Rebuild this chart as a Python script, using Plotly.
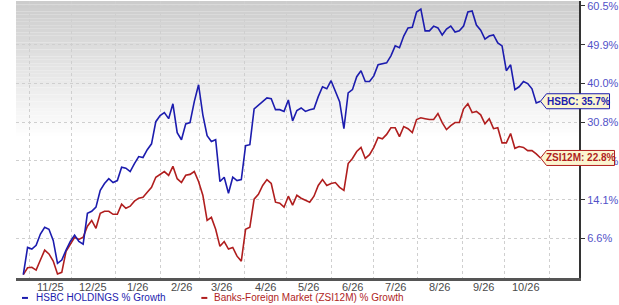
import numpy as np
import pandas as pd
import plotly.graph_objects as go

# ---------------- data ----------------
dates = pd.date_range("2025-10-28", periods=122, freq="3D")

hsbc = [
    0.0, 4.9, 4.6, 5.3, 7.4, 8.7, 8.3, 6.2, 2.0, 2.6,
    4.4, 6.0, 7.2, 6.0, 5.5, 11.4, 11.8, 12.6, 16.0, 17.4,
    18.4, 17.6, 18.0, 20.8, 20.6, 19.9, 21.6, 23.1, 22.9, 24.6,
    25.9, 30.9, 32.3, 33.0, 31.6, 35.1, 28.4, 26.8, 30.4, 30.7,
    35.6, 39.7, 32.5, 27.7, 26.4, 26.8, 17.8, 18.7, 15.4, 18.7,
    18.0, 18.2, 25.5, 25.7, 33.9, 34.8, 35.6, 36.5, 36.3, 33.7,
    33.7, 33.3, 36.0, 31.1, 33.5, 34.1, 33.3, 33.7, 33.9, 36.8,
    39.2, 38.7, 40.7, 38.2, 35.6, 29.3, 37.7, 38.5, 41.7, 43.2,
    40.5, 40.5, 41.9, 44.7, 44.9, 45.2, 47.0, 49.6, 49.1, 52.2,
    54.4, 54.6, 58.8, 59.6, 53.6, 53.6, 54.9, 54.4, 52.5, 54.1,
    54.9, 53.3, 53.6, 54.9, 58.8, 59.1, 55.2, 53.8, 51.4, 52.2,
    52.5, 50.4, 49.6, 43.2, 44.7, 38.5, 39.2, 40.5, 40.0, 38.7,
    35.3, 35.7,
]

zsi12m = [
    0.0, 1.2, 1.3, 0.8, 2.6, 4.4, 3.7, 2.4, 0.1, 0.4,
    4.2, 5.5, 6.8, 6.4, 6.8, 8.9, 10.0, 8.5, 11.4, 11.8,
    11.8, 11.2, 11.2, 13.2, 12.4, 12.8, 13.8, 14.4, 14.6, 15.6,
    16.6, 18.7, 19.3, 19.9, 19.1, 21.0, 18.4, 17.6, 19.1, 19.3,
    19.9, 17.8, 15.0, 10.0, 10.6, 8.3, 5.1, 6.0, 4.6, 4.9,
    3.3, 2.4, 8.3, 8.7, 14.2, 15.2, 17.0, 18.2, 17.4, 13.6,
    13.4, 12.6, 14.8, 13.0, 15.0, 14.4, 14.0, 13.6, 14.8, 17.0,
    18.2, 17.0, 17.4, 17.6, 16.6, 16.0, 21.6, 22.7, 24.2, 25.1,
    22.7, 23.5, 25.1, 27.3, 27.0, 28.0, 29.5, 29.5, 27.5, 29.8,
    29.3, 28.4, 31.4, 31.8, 31.6, 31.4, 31.4, 32.8, 30.7, 29.1,
    30.0, 30.7, 30.7, 33.9, 35.1, 33.0, 33.3, 32.5, 30.4, 31.6,
    29.3, 29.5, 26.1, 26.1, 28.2, 24.9, 25.3, 25.1, 24.4, 24.4,
    23.7, 22.8,
]

y_tick_values = [6.6, 14.1, 22.2, 30.8, 40.0, 49.9, 60.5]
month_starts = pd.date_range("2025-11-01", "2026-11-01", freq="MS")
month_labels = ["11/25", "12/25", "1/26", "2/26", "3/26", "4/26",
                "5/26", "6/26", "7/26", "8/26", "9/26", "10/26"]

series_names = ["HSBC HOLDINGS % Growth", "Banks-Foreign Market (ZSI12M) % Growth"]
short_names = ["HSBC", "ZSI12M"]

# ---------------- style ----------------
BLUE = "#1c1cae"
RED = "#b01e1e"
TICK_BLUE = "#5252c8"
TAG_FILL = "#fbf5d0"
FONT = "Liberation Sans, Arial, sans-serif"

W, H = 619, 305
ML, MR, MT, MB = 16, 38, 0, 27
plot_w = W - ML - MR
plot_h = H - MT - MB

x_start = pd.Timestamp("2025-10-22 21:00")
x_end = pd.Timestamp("2026-11-22")
y_range = [np.log10(0.994), np.log10(1.619)]


def to_ratio(v):
    return 1 + v / 100.0


def px_x(px):
    return (px - ML) / plot_w


def px_y(py):
    return (plot_h - (py - MT)) / plot_h


def date_to_paper(d):
    return (d - x_start) / (x_end - x_start)


def val_to_paper(v):
    return (np.log10(to_ratio(v)) - y_range[0]) / (y_range[1] - y_range[0])


fig = go.Figure()

# gradient background (top gray fading to white)
n_bands = 40
for i in range(n_bands):
    y1 = 1 - i * 0.5 / n_bands
    y0 = 1 - (i + 1) * 0.5 / n_bands
    t = i / (n_bands - 1)
    c = int(round(204 + (255 - 204) * t))
    fig.add_shape(type="rect", xref="paper", yref="paper", x0=0, x1=1,
                  y0=y0, y1=y1, fillcolor=f"rgb({c},{c},{c})",
                  line=dict(width=0), layer="below")

for vals, color, name in [(zsi12m, RED, series_names[1]), (hsbc, BLUE, series_names[0])]:
    fig.add_trace(go.Scatter(
        x=dates, y=[to_ratio(v) for v in vals], mode="lines", name=name,
        line=dict(color=color, width=1.6), showlegend=False,
    ))

# end labels: pointed tag shape (paper-referenced so it is not clipped) + text
for vals, color, nm, tag_w in [(hsbc, BLUE, short_names[0], 69),
                               (zsi12m, RED, short_names[1], 74)]:
    ax = date_to_paper(dates[-1])
    ay = val_to_paper(vals[-1])
    fig.add_shape(
        type="path", xref="paper", yref="paper",
        xsizemode="pixel", ysizemode="pixel",
        xanchor=ax, yanchor=ay,
        path=f"M 0,0 L 6,7.5 L {tag_w},7.5 L {tag_w},-7.5 L 6,-7.5 Z",
        fillcolor=TAG_FILL, line=dict(color=color, width=1), layer="above",
    )
    fig.add_annotation(
        x=ax, y=ay, xref="paper", yref="paper",
        text=f"<b>{nm}: {vals[-1]:.1f}%</b>", showarrow=False,
        xanchor="center", yanchor="middle", xshift=(6 + tag_w) / 2,
        font=dict(family=FONT, size=10, color=color),
    )

# x tick labels (mid-month) as annotations so they sit close to the axis
for d, lab in zip(month_starts[:-1], month_labels):
    fig.add_annotation(x=d + pd.Timedelta(days=15), y=px_y(287), xref="x", yref="paper",
                       text=lab, showarrow=False, xanchor="center", yanchor="middle",
                       font=dict(family=FONT, size=11, color="#4a4a4a"))

# custom legend below the chart
legend_items = [(series_names[0], BLUE, 22, 34), (series_names[1], RED, 202, 213)]
for name, color, dash_x, text_x in legend_items:
    fig.add_shape(type="line", xref="paper", yref="paper",
                  x0=px_x(dash_x), x1=px_x(dash_x + 6), y0=px_y(298), y1=px_y(298),
                  line=dict(color=color, width=2))
    fig.add_annotation(x=px_x(text_x), y=px_y(298), xref="paper", yref="paper",
                       text=name, showarrow=False, xanchor="left", yanchor="middle",
                       font=dict(family=FONT, size=10, color=color))

fig.update_layout(
    width=W, height=H, autosize=False,
    margin=dict(l=ML, r=MR, t=MT, b=MB),
    paper_bgcolor="white", plot_bgcolor="white",
    font=dict(family=FONT),
    xaxis=dict(
        range=[x_start, x_end],
        tickvals=list(month_starts),
        showticklabels=False,
        showgrid=True, gridcolor="#cfcfcf", griddash="dot", gridwidth=1,
        ticks="", zeroline=False,
        showline=True, linecolor="#555555", linewidth=3,
    ),
    yaxis=dict(
        type="log", side="right",
        range=y_range,
        tickvals=[to_ratio(v) for v in y_tick_values],
        ticktext=[f"{v:.1f}%" for v in y_tick_values],
        ticklabeloverflow="allow",
        showgrid=True, gridcolor="#cfcfcf", griddash="dot", gridwidth=1,
        zeroline=False, showline=True, linecolor="#333333", linewidth=2,
        ticks="outside", ticklen=4, tickcolor="#333333",
        tickfont=dict(family=FONT, size=11, color=TICK_BLUE),
    ),
)

fig.write_html("out.html")
